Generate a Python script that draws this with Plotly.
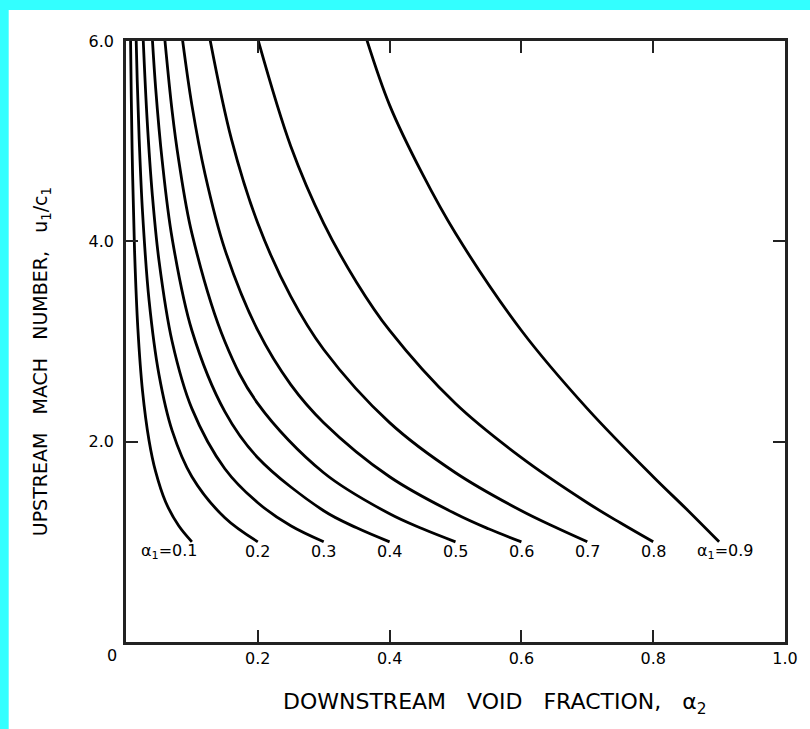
import plotly.graph_objects as go

# upstream void fraction of each curve
alpha1 = [0.1, 0.2, 0.3, 0.4, 0.5, 0.6, 0.7, 0.8, 0.9]

# downstream void fraction / upstream mach number
a2_01 = [0.1, 0.08, 0.06, 0.045, 0.035, 0.025, 0.018, 0.013, 0.01, 0.008, 0.0068]
m_01 = [1.0, 1.16, 1.40, 1.70, 2.01, 2.51, 3.13, 3.90, 4.67, 5.44, 6.08]
a2_02 = [0.2, 0.15, 0.1, 0.07, 0.05, 0.035, 0.025, 0.02, 0.017, 0.015]
m_02 = [1.0, 1.24, 1.65, 2.11, 2.67, 3.41, 4.30, 5.02, 5.61, 6.12]
a2_03 = [0.3, 0.25, 0.2, 0.15, 0.1, 0.07, 0.05, 0.04, 0.032, 0.026]
m_03 = [1.0, 1.16, 1.39, 1.73, 2.33, 3.00, 3.81, 4.46, 5.22, 6.03]
a2_04 = [0.4, 0.35, 0.3, 0.2, 0.15, 0.1, 0.07, 0.055, 0.045, 0.038]
m_04 = [1.0, 1.14, 1.31, 1.84, 2.30, 3.11, 4.03, 4.80, 5.53, 6.24]
a2_05 = [0.5, 0.45, 0.4, 0.3, 0.2, 0.15, 0.1, 0.08, 0.07, 0.058]
m_05 = [1.0, 1.13, 1.28, 1.69, 2.38, 3.00, 4.08, 4.81, 5.30, 6.08]
a2_06 = [0.6, 0.55, 0.5, 0.4, 0.3, 0.25, 0.2, 0.15, 0.12, 0.1, 0.085]
m_06 = [1.0, 1.13, 1.28, 1.65, 2.19, 2.57, 3.11, 3.92, 4.67, 5.36, 6.05]
a2_07 = [0.7, 0.65, 0.6, 0.5, 0.4, 0.3, 0.25, 0.2, 0.16, 0.125]
m_07 = [1.0, 1.15, 1.31, 1.69, 2.19, 2.92, 3.45, 4.18, 5.02, 6.10]
a2_08 = [0.8, 0.75, 0.7, 0.6, 0.5, 0.4, 0.35, 0.3, 0.25, 0.2]
m_08 = [1.0, 1.19, 1.39, 1.84, 2.38, 3.11, 3.59, 4.18, 4.95, 6.02]
a2_09 = [0.9, 0.85, 0.8, 0.7, 0.6, 0.5, 0.45, 0.4, 0.365]
m_09 = [1.0, 1.33, 1.65, 2.33, 3.11, 4.08, 4.67, 5.36, 6.02]

curves = [(a2_01, m_01), (a2_02, m_02), (a2_03, m_03), (a2_04, m_04), (a2_05, m_05),
          (a2_06, m_06), (a2_07, m_07), (a2_08, m_08), (a2_09, m_09)]

x_ticks = [0.2, 0.4, 0.6, 0.8, 1.0]
x_labels = ['0.2', '0.4', '0.6', '0.8', '1.0']
y_ticks = [2, 4, 6]
y_labels = ['2.0', '4.0', '6.0']

FONT = 'DejaVu Sans'
GAP = '\u00a0\u00a0\u00a0'
lbl_font = dict(family=FONT, size=16, color='black')

fig = go.Figure()
for a1, (xs, ys) in zip(alpha1, curves):
    fig.add_trace(go.Scatter(x=xs, y=ys, mode='lines', line=dict(color='black', width=2.8, shape='spline'),
                             showlegend=False, name=str(a1)))

# curve labels
for a1 in alpha1:
    if a1 == 0.1:
        fig.add_annotation(x=0.113, y=0.9, text='α<sub>1</sub>=0.1', xanchor='right', yanchor='middle',
                           showarrow=False, font=lbl_font)
    elif a1 == 0.9:
        fig.add_annotation(x=0.864, y=0.9, text='α<sub>1</sub>=0.9', xanchor='left', yanchor='middle',
                           showarrow=False, font=lbl_font)
    else:
        fig.add_annotation(x=a1, y=0.9, text='%.1f' % a1, xanchor='center', yanchor='middle',
                           showarrow=False, font=lbl_font)

# origin label and axis titles
fig.add_annotation(xref='paper', yref='paper', x=-0.021, y=-0.023, text='0', showarrow=False,
                   xanchor='center', yanchor='middle', font=dict(family=FONT, size=16, color='black'))
fig.add_annotation(xref='paper', yref='paper', x=0.56, y=-0.102, xanchor='center', yanchor='middle',
                   text='DOWNSTREAM' + GAP + 'VOID' + GAP + 'FRACTION,' + GAP + 'α<sub>2</sub>',
                   showarrow=False, font=dict(family=FONT, size=22, color='black'))
fig.add_annotation(xref='paper', yref='paper', x=-0.127, y=0.466, xanchor='center', yanchor='middle',
                   textangle=-90,
                   text='UPSTREAM' + GAP + 'MACH' + GAP + 'NUMBER,' + GAP + 'u<sub>1</sub>/c<sub>1</sub>',
                   showarrow=False, font=dict(family=FONT, size=19, color='black'))

# cyan frame strips on the top and left edge
fig.add_shape(type='rect', xref='paper', yref='paper', x0=-0.2, x1=-0.178, y0=-0.2, y1=1.1,
              fillcolor='#33ffff', line_width=0, layer='below')
fig.add_shape(type='rect', xref='paper', yref='paper', x0=-0.2, x1=1.05, y0=1.0516, y1=1.1,
              fillcolor='#33ffff', line_width=0, layer='below')

fig.update_xaxes(range=[0, 1], tickvals=x_ticks, ticktext=x_labels, ticks='inside', ticklen=12, tickwidth=2,
                 tickcolor='#222', showline=True, linecolor='#222', linewidth=2.5, mirror='ticks',
                 showgrid=False, zeroline=False, tickfont=dict(family=FONT, size=16, color='black'))
fig.update_yaxes(range=[0, 6], tickvals=y_ticks, ticktext=y_labels, ticks='inside', ticklen=12, tickwidth=2,
                 tickcolor='#222', showline=True, linecolor='#222', linewidth=2.5, mirror='ticks',
                 showgrid=False, zeroline=False, ticklabelstandoff=6,
                 tickfont=dict(family=FONT, size=16, color='black'))

fig.update_layout(width=810, height=729, margin=dict(l=126, r=21, t=41, b=87),
                  paper_bgcolor='white', plot_bgcolor='white')

fig.write_html('out.html', config={'displayModeBar': False},
               post_script="document.body.style.margin='0';document.body.style.overflow='hidden';")
